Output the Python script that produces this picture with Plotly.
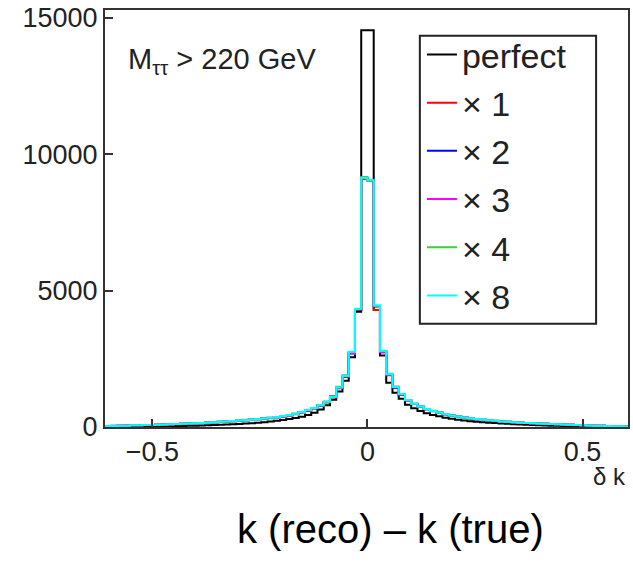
import plotly.graph_objects as go

# ---------------- data ----------------
x_min, x_max, n_bins = -0.61, 0.61, 84
series_names = ["perfect", "× 1", "× 2", "× 3", "× 4", "× 8"]
series_colors = ["#000000", "#ff0000", "#0000ff", "#ff00ff", "#3fcc3f", "#00ffff"]

perfect = [
    10, 10, 15, 15, 20, 20, 25, 25, 30, 30,
    35, 35, 40, 45, 50, 55, 60, 70, 80, 90,
    100, 110, 125, 140, 155, 175, 200, 225, 255, 290,
    330, 380, 440, 520, 640, 800, 1000, 1300, 1700, 2560,
    4230, 14550, 14550, 4290, 2620, 1620, 1260, 1040, 820, 690,
    590, 500, 440, 390, 340, 300, 270, 240, 215, 195,
    175, 160, 145, 130, 115, 105, 95, 85, 75, 65,
    55, 50, 45, 40, 35, 30, 25, 25, 20, 20,
    15, 15, 10, 10]
x1 = [
    40, 40, 50, 50, 60, 60, 70, 70, 80, 90,
    95, 105, 115, 125, 135, 145, 155, 170, 180, 195,
    210, 230, 245, 262, 285, 305, 325, 355, 385, 425,
    470, 530, 600, 680, 780, 900, 1080, 1420, 1830, 2700,
    4300, 9100, 9040, 4290, 2760, 1900, 1440, 1180, 970, 840,
    740, 650, 580, 520, 465, 420, 380, 345, 315, 285,
    260, 240, 220, 200, 185, 170, 158, 148, 138, 128,
    118, 108, 98, 88, 78, 68, 60, 52, 48, 42,
    38, 30, 28, 20]
x2 = [
    40, 45, 50, 50, 55, 60, 70, 75, 85, 90,
    100, 110, 118, 128, 138, 150, 160, 172, 188, 200,
    215, 232, 248, 268, 288, 308, 330, 360, 395, 435,
    480, 545, 610, 690, 790, 920, 1130, 1430, 1850, 2720,
    4320, 9120, 9050, 4420, 2740, 1910, 1450, 1190, 980, 845,
    745, 655, 585, 525, 470, 420, 382, 348, 318, 288,
    262, 242, 222, 204, 188, 172, 160, 148, 138, 128,
    118, 108, 100, 90, 80, 70, 60, 55, 50, 45,
    40, 30, 30, 20]
x3 = [
    40, 40, 50, 55, 60, 65, 70, 75, 80, 90,
    100, 110, 120, 130, 140, 150, 160, 175, 188, 205,
    218, 235, 250, 270, 290, 310, 335, 362, 398, 438,
    488, 548, 615, 700, 795, 925, 1100, 1440, 1860, 2683,
    4330, 9120, 9050, 4440, 2741, 1920, 1475, 1200, 985, 848,
    748, 658, 588, 528, 472, 424, 384, 350, 320, 290,
    265, 245, 225, 205, 190, 175, 160, 150, 140, 130,
    120, 110, 100, 90, 80, 70, 60, 55, 50, 45,
    40, 30, 30, 20]
x4 = [
    40, 40, 50, 50, 60, 60, 70, 70, 80, 90,
    100, 110, 120, 130, 140, 150, 165, 175, 190, 205,
    220, 235, 262, 270, 290, 312, 335, 365, 400, 440,
    490, 550, 620, 700, 800, 930, 1110, 1480, 1900, 2750,
    4330, 9170, 9030, 4440, 2790, 1950, 1480, 1200, 990, 850,
    750, 660, 600, 530, 475, 425, 385, 350, 320, 290,
    265, 245, 225, 205, 190, 178, 160, 150, 140, 130,
    120, 110, 100, 90, 80, 70, 60, 55, 50, 45,
    40, 30, 30, 20]
x8 = [
    40, 40, 50, 50, 60, 60, 70, 75, 80, 90,
    100, 110, 120, 130, 140, 150, 160, 175, 190, 205,
    220, 235, 250, 270, 290, 310, 335, 365, 400, 440,
    490, 550, 620, 700, 800, 930, 1110, 1450, 1870, 2760,
    4340, 9130, 9060, 4460, 2800, 1930, 1470, 1210, 990, 850,
    750, 660, 590, 530, 475, 425, 385, 350, 320, 290,
    265, 245, 225, 205, 190, 175, 160, 150, 140, 130,
    120, 110, 100, 90, 80, 70, 60, 55, 50, 45,
    40, 30, 30, 20]

y_tickvals = [0, 5000, 10000, 15000]
x_tickvals = [-0.5, 0, 0.5]
x_ticktext = ["−0.5", "0", "0.5"]

all_series = [perfect, x1, x2, x3, x4, x8]
for s in all_series:
    assert len(s) == n_bins

# bin edges of the histogram
bw = (x_max - x_min) / n_bins
edges = [x_min + i * bw for i in range(n_bins + 1)]

FONT = "Liberation Sans, Arial, Helvetica, sans-serif"

fig = go.Figure()
for i, (name, col, vals) in enumerate(zip(series_names, series_colors, all_series)):
    fig.add_trace(go.Scatter(
        x=edges,
        y=list(vals) + [vals[-1]],
        mode="lines",
        line=dict(shape="hv", color=col, width=2),
        name=name,
        legendgroup="g%d" % i,
        hoverinfo="skip",
    ))

fig.update_layout(
    width=633, height=562,
    margin=dict(l=105, r=3, t=7, b=135),
    paper_bgcolor="white", plot_bgcolor="white",
    font=dict(family=FONT, color="#222222"),
    showlegend=True,
    legend=dict(
        x=0.606, y=0.962, xanchor="left", yanchor="top",
        borderwidth=0, bgcolor="rgba(0,0,0,0)",
        font=dict(size=34, family=FONT, color="#222222"),
        tracegroupgap=1, traceorder="grouped",
        itemwidth=30,
    ),
    shapes=[
        dict(type="rect", xref="paper", yref="paper",
             x0=0.602, x1=0.939, y0=0.2476, y1=0.938,
             line=dict(color="#222222", width=2), fillcolor="white", layer="above"),
    ],
    xaxis=dict(
        range=[x_min, 0.6055], showgrid=False, zeroline=False,
        showline=True, mirror=True, linecolor="#333333", linewidth=2,
        ticks="inside", ticklen=8, tickwidth=2, tickcolor="#333333",
        tickvals=x_tickvals, ticktext=x_ticktext,
        tickfont=dict(size=27, family=FONT, color="#222222"),
    ),
    yaxis=dict(
        range=[0, 15290], showgrid=False, zeroline=False,
        showline=True, mirror=True, linecolor="#333333", linewidth=2,
        ticks="inside", ticklen=8, tickwidth=2, tickcolor="#333333",
        tickvals=y_tickvals, ticktext=[str(v) for v in y_tickvals],
        tickfont=dict(size=27, family=FONT, color="#222222"),
    ),
    annotations=[
        dict(text="M<sub>ττ</sub> > 220 GeV", xref="paper", yref="paper",
             x=0.041, y=0.877, xanchor="left", yanchor="middle", showarrow=False,
             font=dict(size=29, family=FONT, color="#222222")),
        dict(text="δ k", xref="paper", yref="paper",
             x=1.0, y=-0.118, xanchor="right", yanchor="middle", showarrow=False,
             font=dict(size=24, family=FONT, color="#222222")),
        dict(text="k (reco) – k (true)", xref="paper", yref="paper",
             x=0.545, y=-0.245, xanchor="center", yanchor="middle", showarrow=False,
             font=dict(size=40, family=FONT, color="#000000")),
    ],
)

fig.write_html("out.html")
